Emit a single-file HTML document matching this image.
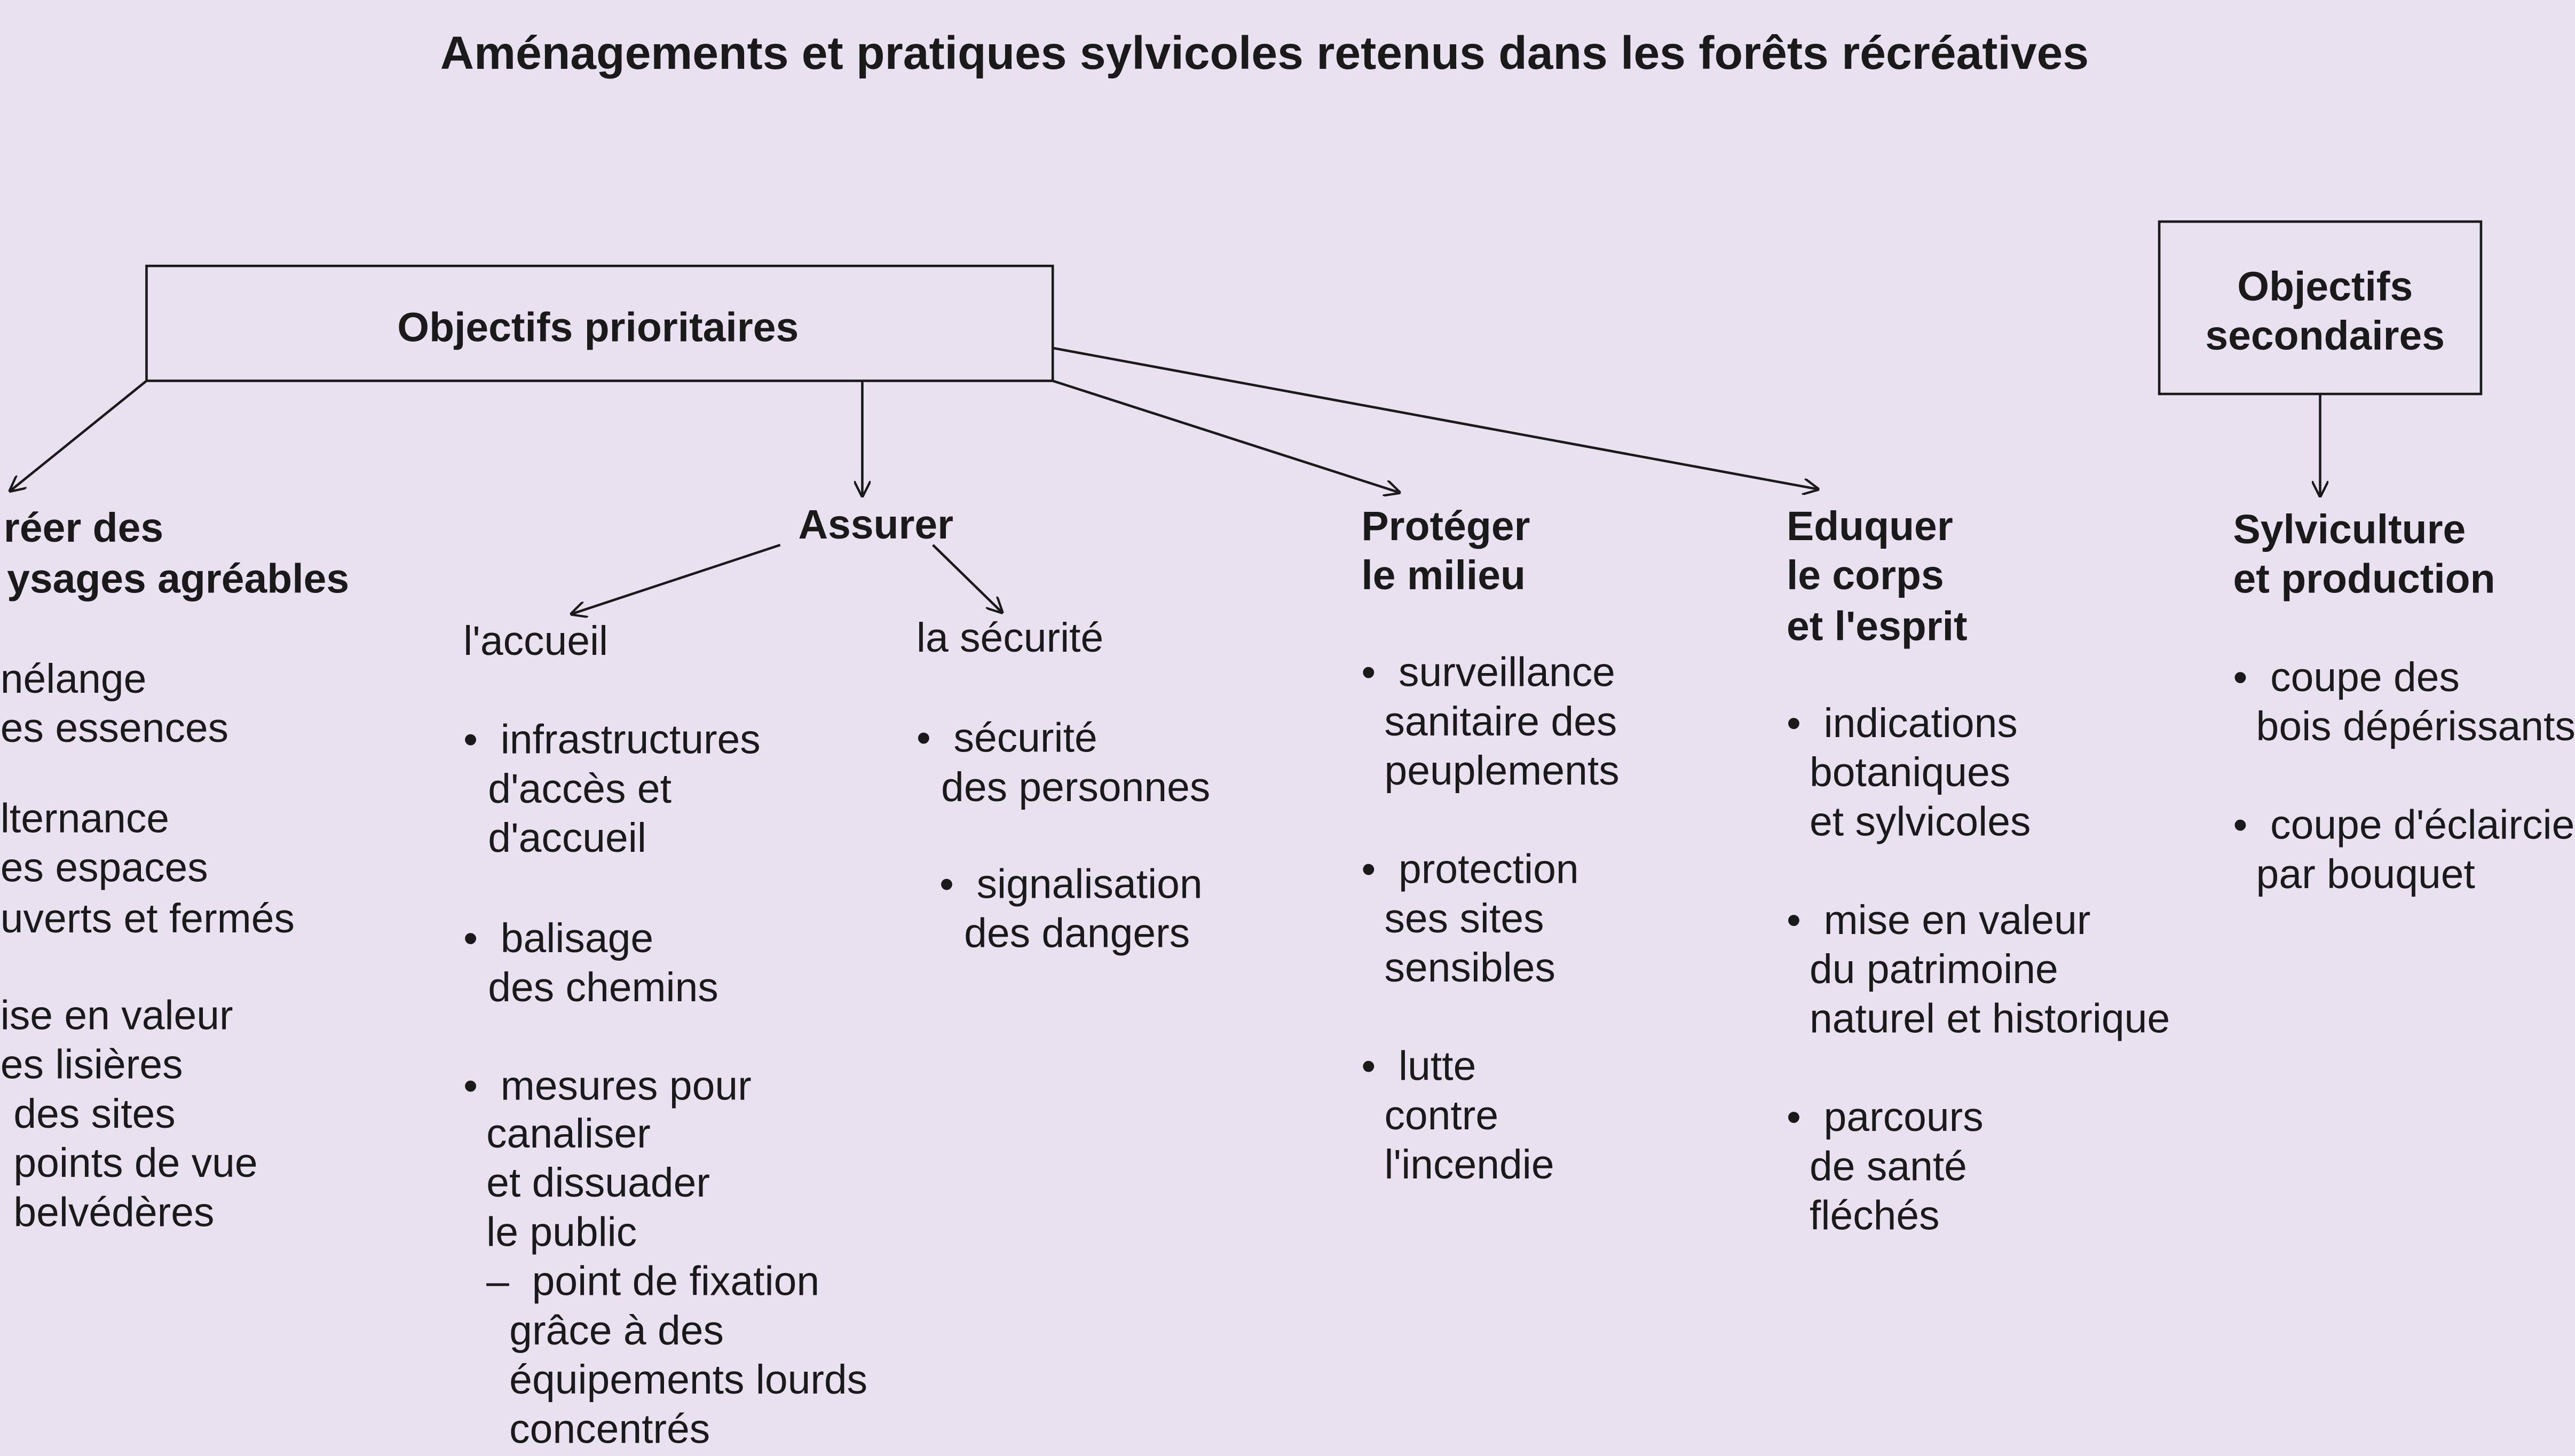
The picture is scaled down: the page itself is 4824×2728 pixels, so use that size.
<!DOCTYPE html>
<html><head><meta charset="utf-8"><style>
html,body{margin:0;padding:0;background:#e9e1ef;}
svg{display:block;}
text{font-family:"Liberation Sans",Arial,sans-serif;fill:#1a1a1a;}
.b{font-weight:bold;font-size:25px;}
.r{font-size:25px;}
</style></head><body>
<svg width="4824" height="2728" viewBox="0 0 1568 887" xmlns="http://www.w3.org/2000/svg">
<defs><marker id="a" markerWidth="10" markerHeight="10" refX="9" refY="5" orient="auto" markerUnits="userSpaceOnUse"><path d="M0,0 L10,5 L0,10" fill="none" stroke="#1a1a1a" stroke-width="1.4"/></marker></defs>
<rect width="1568" height="887" fill="#e9e1ef"/>
<text x="770" y="42" text-anchor="middle" style="font-weight:bold;font-size:28.5px">Aménagements et pratiques sylvicoles retenus dans les forêts récréatives</text>
<g fill="none" stroke="#1a1a1a" stroke-width="1.5">
<rect x="89" y="162" width="552" height="70"/>
<rect x="1315" y="135" width="196" height="105"/>
<line x1="89" y1="232" x2="6" y2="299" marker-end="url(#a)"/>
<line x1="525" y1="232" x2="525" y2="302" marker-end="url(#a)"/>
<line x1="641" y1="232" x2="852" y2="300" marker-end="url(#a)"/>
<line x1="641" y1="212" x2="1107" y2="298" marker-end="url(#a)"/>
<line x1="1413" y1="240" x2="1413" y2="302" marker-end="url(#a)"/>
<line x1="475" y1="332" x2="348" y2="374" marker-end="url(#a)"/>
<line x1="568" y1="332" x2="610" y2="373" marker-end="url(#a)"/>
</g>
<text class="b" x="364" y="208" text-anchor="middle">Objectifs prioritaires</text>
<text class="b" x="1416" y="183" text-anchor="middle">Objectifs</text>
<text class="b" x="1416" y="213" text-anchor="middle">secondaires</text>

<text class="b" x="2" y="330">réer des</text>
<text class="b" x="4" y="361">ysages agréables</text>
<text class="r" x="0" y="422">nélange</text>
<text class="r" x="0" y="452">es essences</text>
<text class="r" x="0" y="507">lternance</text>
<text class="r" x="0" y="537">es espaces</text>
<text class="r" x="0" y="568">uverts et fermés</text>
<text class="r" x="0" y="627">ise en valeur</text>
<text class="r" x="0" y="657">es lisières</text>
<text class="r" x="8" y="687">des sites</text>
<text class="r" x="8" y="717">points de vue</text>
<text class="r" x="8" y="747">belvédères</text>

<text class="b" x="486" y="328">Assurer</text>
<text class="r" x="282" y="399">l'accueil</text>
<text class="r" x="558" y="397">la sécurité</text>
<text class="r" x="282" y="459">•&#160;&#160;infrastructures</text>
<text class="r" x="297" y="489">d'accès et</text>
<text class="r" x="297" y="519">d'accueil</text>
<text class="r" x="282" y="580">•&#160;&#160;balisage</text>
<text class="r" x="297" y="610">des chemins</text>
<text class="r" x="282" y="670">•&#160;&#160;mesures pour</text>
<text class="r" x="296" y="699">canaliser</text>
<text class="r" x="296" y="729">et dissuader</text>
<text class="r" x="296" y="759">le public</text>
<text class="r" x="296" y="789">–&#160;&#160;point de fixation</text>
<text class="r" x="310" y="819">grâce à des</text>
<text class="r" x="310" y="849">équipements lourds</text>
<text class="r" x="310" y="879">concentrés</text>
<text class="r" x="558" y="458">•&#160;&#160;sécurité</text>
<text class="r" x="573" y="488">des personnes</text>
<text class="r" x="572" y="547">•&#160;&#160;signalisation</text>
<text class="r" x="587" y="577">des dangers</text>

<text class="b" x="829" y="329">Protéger</text>
<text class="b" x="829" y="359">le milieu</text>
<text class="r" x="829" y="418">•&#160;&#160;surveillance</text>
<text class="r" x="843" y="448">sanitaire des</text>
<text class="r" x="843" y="478">peuplements</text>
<text class="r" x="829" y="538">•&#160;&#160;protection</text>
<text class="r" x="843" y="568">ses sites</text>
<text class="r" x="843" y="598">sensibles</text>
<text class="r" x="829" y="658">•&#160;&#160;lutte</text>
<text class="r" x="843" y="688">contre</text>
<text class="r" x="843" y="718">l'incendie</text>

<text class="b" x="1088" y="329">Eduquer</text>
<text class="b" x="1088" y="359">le corps</text>
<text class="b" x="1088" y="390">et l'esprit</text>
<text class="r" x="1088" y="449">•&#160;&#160;indications</text>
<text class="r" x="1102" y="479">botaniques</text>
<text class="r" x="1102" y="509">et sylvicoles</text>
<text class="r" x="1088" y="569">•&#160;&#160;mise en valeur</text>
<text class="r" x="1102" y="599">du patrimoine</text>
<text class="r" x="1102" y="629">naturel et historique</text>
<text class="r" x="1088" y="689">•&#160;&#160;parcours</text>
<text class="r" x="1102" y="719">de santé</text>
<text class="r" x="1102" y="749">fléchés</text>

<text class="b" x="1360" y="331">Sylviculture</text>
<text class="b" x="1360" y="361">et production</text>
<text class="r" x="1360" y="421">•&#160;&#160;coupe des</text>
<text class="r" x="1374" y="451">bois dépérissants</text>
<text class="r" x="1360" y="511">•&#160;&#160;coupe d'éclaircie</text>
<text class="r" x="1374" y="541">par bouquet</text>
</svg>
</body></html>
